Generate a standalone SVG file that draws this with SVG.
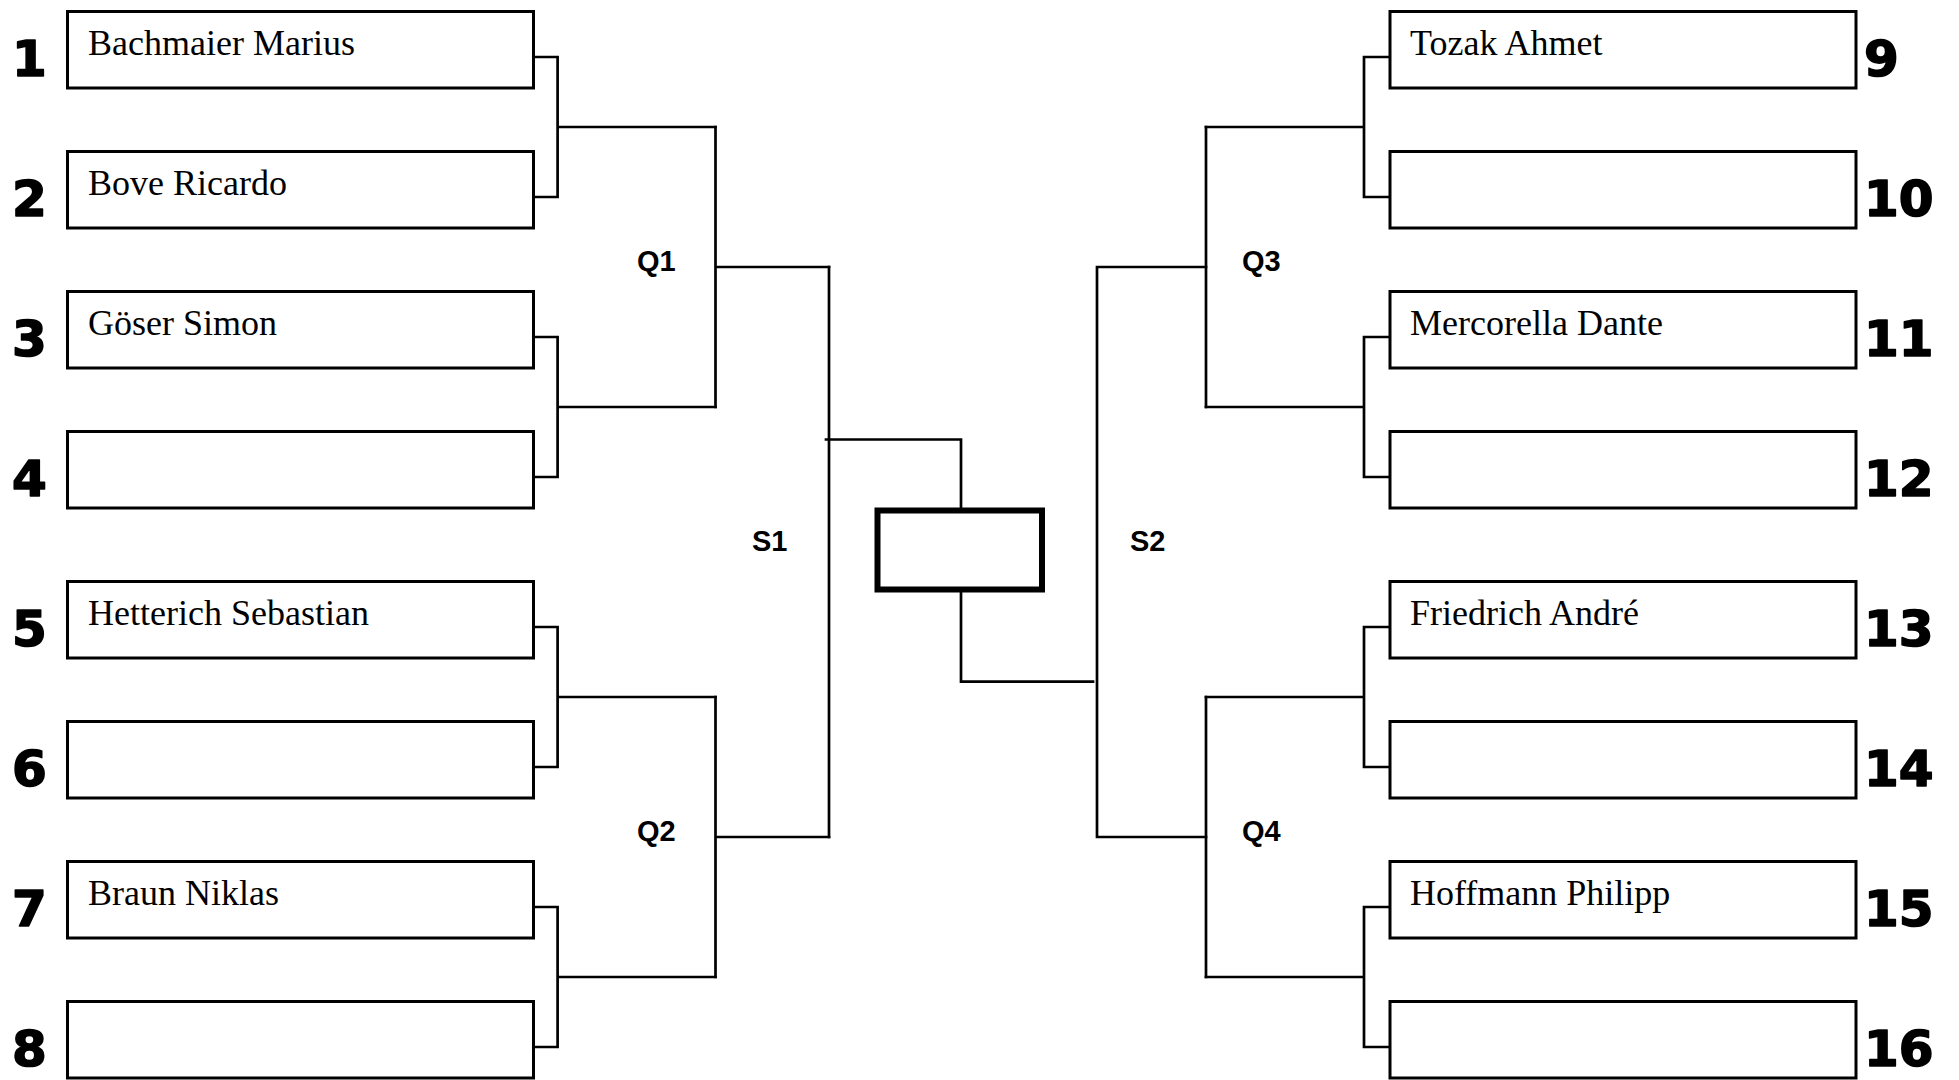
<svg xmlns="http://www.w3.org/2000/svg" width="1959" height="1080" viewBox="0 0 1959 1080">
<style>
.box{fill:#fff;stroke:#000;stroke-width:3}
.final{fill:#fff;stroke:#000;stroke-width:6}
.ln{fill:none;stroke:#000;stroke-width:2.7;stroke-linejoin:miter;stroke-linecap:square}
.name{font-family:"Liberation Serif","Times New Roman",serif;font-size:36px;fill:#000}
.num{font-family:"DejaVu Sans",sans-serif;font-weight:bold;font-size:50px;fill:#000;stroke:#000;stroke-width:1.6;stroke-linejoin:round}
.lbl{font-family:"Liberation Sans",Arial,sans-serif;font-weight:bold;font-size:29px;fill:#000}
</style>
<rect width="1959" height="1080" fill="#fff"/>
<g id="connectors">
<path class="ln" d="M535 57H557.6V197H535M557.6 127H715.5"/>
<path class="ln" d="M535 337H557.6V477H535M557.6 407H715.5"/>
<path class="ln" d="M535 627H557.6V767H535M557.6 697H715.5"/>
<path class="ln" d="M535 907H557.6V1047H535M557.6 977H715.5"/>
<path class="ln" d="M715.5 127V407M715.5 267H829"/>
<path class="ln" d="M715.5 697V977M715.5 837H829"/>
<path class="ln" d="M829 267V837"/>
<path class="ln" d="M826 439.5H961V508"/>
<path class="ln" d="M961 592V681.7H1093"/>
<path class="ln" d="M1097 267V837M1097 267H1206M1097 837H1206"/>
<path class="ln" d="M1206 127V407"/>
<path class="ln" d="M1206 697V977"/>
<path class="ln" d="M1389 57H1364V197H1389M1364 127H1206"/>
<path class="ln" d="M1389 337H1364V477H1389M1364 407H1206"/>
<path class="ln" d="M1389 627H1364V767H1389M1364 697H1206"/>
<path class="ln" d="M1389 907H1364V1047H1389M1364 977H1206"/>
</g>
<g id="labels">
<text class="lbl" x="637" y="271">Q1</text>
<text class="lbl" x="637" y="841">Q2</text>
<text class="lbl" x="752" y="551">S1</text>
<text class="lbl" x="1242" y="271">Q3</text>
<text class="lbl" x="1242" y="841">Q4</text>
<text class="lbl" x="1130" y="551">S2</text>
</g>
<g id="final"><rect class="final" x="877.5" y="510.5" width="164.5" height="79"/></g>
<g id="p1"><rect class="box" x="67.5" y="11.5" width="466" height="76.5"/><text class="num" x="12" y="76">1</text><text class="name" x="88" y="55">Bachmaier Marius</text></g>
<g id="p2"><rect class="box" x="67.5" y="151.5" width="466" height="76.5"/><text class="num" x="12" y="216">2</text><text class="name" x="88" y="195">Bove Ricardo</text></g>
<g id="p3"><rect class="box" x="67.5" y="291.5" width="466" height="76.5"/><text class="num" x="12" y="356">3</text><text class="name" x="88" y="335">Göser Simon</text></g>
<g id="p4"><rect class="box" x="67.5" y="431.5" width="466" height="76.5"/><text class="num" x="12" y="496">4</text></g>
<g id="p5"><rect class="box" x="67.5" y="581.5" width="466" height="76.5"/><text class="num" x="12" y="646">5</text><text class="name" x="88" y="625">Hetterich Sebastian</text></g>
<g id="p6"><rect class="box" x="67.5" y="721.5" width="466" height="76.5"/><text class="num" x="12" y="786">6</text></g>
<g id="p7"><rect class="box" x="67.5" y="861.5" width="466" height="76.5"/><text class="num" x="12" y="926">7</text><text class="name" x="88" y="905">Braun Niklas</text></g>
<g id="p8"><rect class="box" x="67.5" y="1001.5" width="466" height="76.5"/><text class="num" x="12" y="1066">8</text></g>
<g id="p9"><rect class="box" x="1390" y="11.5" width="466" height="76.5"/><text class="num" x="1864" y="76">9</text><text class="name" x="1410" y="55">Tozak Ahmet</text></g>
<g id="p10"><rect class="box" x="1390" y="151.5" width="466" height="76.5"/><text class="num" x="1864" y="216">10</text></g>
<g id="p11"><rect class="box" x="1390" y="291.5" width="466" height="76.5"/><text class="num" x="1864" y="356">11</text><text class="name" x="1410" y="335">Mercorella Dante</text></g>
<g id="p12"><rect class="box" x="1390" y="431.5" width="466" height="76.5"/><text class="num" x="1864" y="496">12</text></g>
<g id="p13"><rect class="box" x="1390" y="581.5" width="466" height="76.5"/><text class="num" x="1864" y="646">13</text><text class="name" x="1410" y="625">Friedrich André</text></g>
<g id="p14"><rect class="box" x="1390" y="721.5" width="466" height="76.5"/><text class="num" x="1864" y="786">14</text></g>
<g id="p15"><rect class="box" x="1390" y="861.5" width="466" height="76.5"/><text class="num" x="1864" y="926">15</text><text class="name" x="1410" y="905">Hoffmann Philipp</text></g>
<g id="p16"><rect class="box" x="1390" y="1001.5" width="466" height="76.5"/><text class="num" x="1864" y="1066">16</text></g>
</svg>
